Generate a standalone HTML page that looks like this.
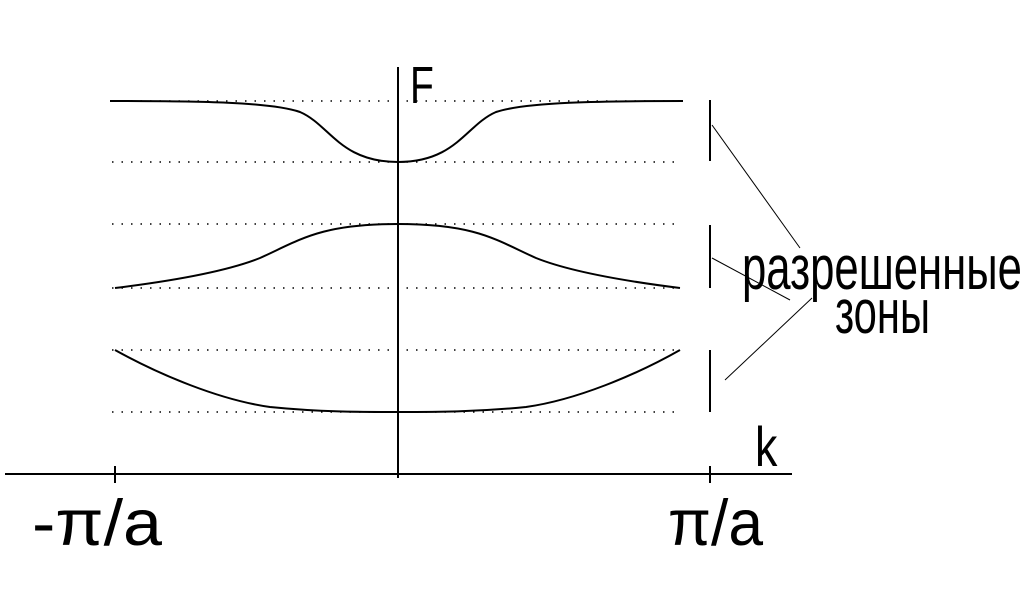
<!DOCTYPE html>
<html><head><meta charset="utf-8"><style>html,body{margin:0;padding:0;background:#fff}svg{display:block}</style></head>
<body>
<svg width="1024" height="600" viewBox="0 0 1024 600" xmlns="http://www.w3.org/2000/svg">
<g stroke="#000" stroke-width="1.5" stroke-dasharray="1.5 8" fill="none">
<line x1="112" y1="101" x2="682" y2="101"/>
<line x1="112" y1="162" x2="682" y2="162"/>
<line x1="112" y1="224" x2="682" y2="224"/>
<line x1="112" y1="288" x2="682" y2="288"/>
<line x1="112" y1="350" x2="682" y2="350"/>
<line x1="112" y1="412" x2="682" y2="412"/>
</g>
<g stroke="#000" stroke-width="2" fill="none">
<line x1="5" y1="474" x2="792" y2="474"/>
<line x1="398" y1="67" x2="398" y2="478"/>
<line x1="115" y1="466" x2="115" y2="483"/>
<line x1="710" y1="466" x2="710" y2="483"/>
<path d="M110 101 C200 101 270 102 300 112 C330 125 340 162 398 162 C456 162 466 125 496 112 C526 102 600 101 683 101"/>
<path d="M115 288 C180 280 230 270 260 258 C300 240 320 224 398 224 C476 224 496 240 536 258 C566 270 616 280 680 288"/>
<path d="M115 350 C160 375 220 400 270 407 C320 412 360 412 398 412 C436 412 476 412 526 407 C576 400 636 375 680 350"/>
<line x1="710" y1="100" x2="710" y2="161"/>
<line x1="710" y1="225" x2="710" y2="288"/>
<line x1="710" y1="350" x2="710" y2="412"/>
</g>
<g stroke="#000" stroke-width="1" fill="none">
<line x1="712" y1="125" x2="800" y2="248"/>
<line x1="712" y1="258" x2="790" y2="300"/>
<line x1="725" y1="380" x2="812" y2="298"/>
</g>
<g font-family="Liberation Sans, DejaVu Sans, sans-serif" fill="#000">
<text x="410" y="103" font-size="52" transform="translate(410 0) scale(0.75 1) translate(-410 0)">F</text>
<text x="755" y="466" font-size="56" transform="translate(755 0) scale(0.8 1) translate(-755 0)">k</text>
<g transform="translate(0 289) scale(1 1.35) translate(0 -289)">
<text x="742" y="289" font-size="46" textLength="280" lengthAdjust="spacingAndGlyphs">разрешенные</text>
</g>
<g transform="translate(0 333) scale(1 1.35) translate(0 -333)">
<text x="835" y="333" font-size="46" textLength="95" lengthAdjust="spacingAndGlyphs">зоны</text>
</g>
<g transform="translate(0 545) scale(1 1.3) translate(0 -545)">
<text x="32" y="545" font-size="50" textLength="130" lengthAdjust="spacingAndGlyphs">-π/a</text>
<text x="668" y="545" font-size="50" textLength="95" lengthAdjust="spacingAndGlyphs">π/a</text>
</g>
</g>
</svg>
</body></html>
